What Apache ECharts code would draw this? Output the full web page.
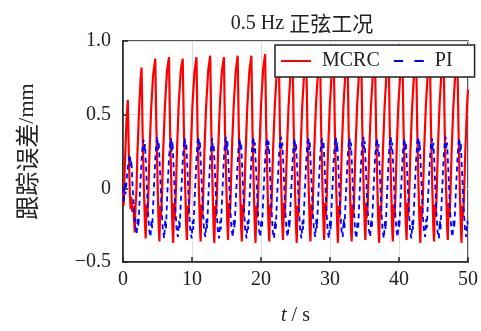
<!DOCTYPE html>
<html>
<head>
<meta charset="utf-8">
<script src="https://cdn.jsdelivr.net/npm/echarts@6/dist/echarts.min.js"></script>
<style>
  html, body { margin: 0; padding: 0; background: #fff; }
  #chart { width: 481px; height: 331px; }
</style>
</head>
<body>
<div id="chart"></div>
<script>
// Tracking error under 0.5 Hz sinusoidal input, [time (s), error (mm)]
const seriesNames = ['MCRC', 'PI'];

const mcrcErr = [
  [0,0],[0.08,-0.12],[0.14,-0.02],[0.3,0.2],[0.5,0.45],[0.7,0.6],[0.85,0.22],[1.0,-0.04],[1.1,-0.14],[1.2,-0.06],[1.35,-0.16],[1.5,-0.12],[1.7,-0.3],[1.82,-0.12],[1.95,-0.02],[2.1,0.25],[2.35,0.55],[2.55,0.74],
  [2.69,0.82],[2.84,0.38],[3.04,-0.02],[3.19,-0.25],[3.29,-0.34],[3.41,-0.11],[3.51,-0.2],[3.64,-0.09],[3.84,0.24],[4.09,0.55],[4.39,0.78],
  [4.68,0.88],[4.83,0.42],[5.03,0.0],[5.18,-0.26],[5.28,-0.36],[5.40,-0.12],[5.50,-0.19],[5.63,-0.08],[5.83,0.26],[6.08,0.56],[6.38,0.8],
  [6.67,0.89],[6.82,0.4],[7.02,-0.01],[7.17,-0.27],[7.27,-0.37],[7.39,-0.1],[7.49,-0.21],[7.62,-0.09],[7.82,0.25],[8.07,0.57],[8.37,0.8],
  [8.66,0.88],[8.81,0.43],[9.01,0.02],[9.16,-0.25],[9.26,-0.35],[9.38,-0.12],[9.48,-0.18],[9.61,-0.08],[9.81,0.24],[10.06,0.56],[10.36,0.79],
  [10.65,0.89],[10.80,0.41],[11.00,0.0],[11.15,-0.26],[11.25,-0.36],[11.37,-0.11],[11.47,-0.2],[11.60,-0.09],[11.80,0.25],[12.05,0.56],[12.35,0.8],
  [12.64,0.9],[12.79,0.42],[12.99,-0.01],[13.14,-0.27],[13.24,-0.37],[13.36,-0.12],[13.46,-0.19],[13.59,-0.08],[13.79,0.26],[14.04,0.57],[14.34,0.8],
  [14.63,0.89],[14.78,0.4],[14.98,0.01],[15.13,-0.25],[15.23,-0.35],[15.35,-0.1],[15.45,-0.2],[15.58,-0.09],[15.78,0.25],[16.03,0.55],[16.33,0.79],
  [16.62,0.9],[16.77,0.43],[16.97,0.0],[17.12,-0.26],[17.22,-0.36],[17.34,-0.11],[17.44,-0.19],[17.57,-0.08],[17.77,0.24],[18.02,0.56],[18.32,0.8],
  [18.61,0.9],[18.76,0.41],[18.96,-0.01],[19.11,-0.27],[19.21,-0.37],[19.33,-0.12],[19.43,-0.2],[19.56,-0.09],[19.76,0.25],[20.01,0.57],[20.31,0.81],
  [20.60,0.91],[20.75,0.42],[20.95,0.0],[21.10,-0.26],[21.20,-0.36],[21.32,-0.11],[21.42,-0.19],[21.55,-0.08],[21.75,0.26],[22.00,0.56],[22.30,0.8],
  [22.59,0.9],[22.74,0.4],[22.94,0.01],[23.09,-0.25],[23.19,-0.35],[23.31,-0.1],[23.41,-0.2],[23.54,-0.09],[23.74,0.24],[23.99,0.55],[24.29,0.79],
  [24.58,0.9],[24.73,0.43],[24.93,0.0],[25.08,-0.26],[25.18,-0.37],[25.30,-0.12],[25.40,-0.19],[25.53,-0.08],[25.73,0.25],[25.98,0.56],[26.28,0.8],
  [26.57,0.89],[26.72,0.41],[26.92,-0.01],[27.07,-0.27],[27.17,-0.36],[27.29,-0.11],[27.39,-0.2],[27.52,-0.09],[27.72,0.26],[27.97,0.57],[28.27,0.8],
  [28.56,0.9],[28.71,0.42],[28.91,0.0],[29.06,-0.25],[29.16,-0.35],[29.28,-0.1],[29.38,-0.19],[29.51,-0.08],[29.71,0.24],[29.96,0.55],[30.26,0.79],
  [30.55,0.9],[30.70,0.4],[30.90,0.01],[31.05,-0.26],[31.15,-0.37],[31.27,-0.12],[31.37,-0.2],[31.50,-0.09],[31.70,0.25],[31.95,0.56],[32.25,0.8],
  [32.54,0.91],[32.69,0.43],[32.89,0.0],[33.04,-0.27],[33.14,-0.36],[33.26,-0.11],[33.36,-0.19],[33.49,-0.08],[33.69,0.26],[33.94,0.57],[34.24,0.81],
  [34.53,0.9],[34.68,0.41],[34.88,-0.01],[35.03,-0.25],[35.13,-0.35],[35.25,-0.1],[35.35,-0.2],[35.48,-0.09],[35.68,0.24],[35.93,0.55],[36.23,0.79],
  [36.52,0.89],[36.67,0.42],[36.87,0.0],[37.02,-0.26],[37.12,-0.37],[37.24,-0.12],[37.34,-0.19],[37.47,-0.08],[37.67,0.25],[37.92,0.56],[38.22,0.8],
  [38.51,0.9],[38.66,0.4],[38.86,0.01],[39.01,-0.27],[39.11,-0.36],[39.23,-0.11],[39.33,-0.2],[39.46,-0.09],[39.66,0.26],[39.91,0.57],[40.21,0.8],
  [40.50,0.9],[40.65,0.43],[40.85,0.0],[41.00,-0.25],[41.10,-0.35],[41.22,-0.1],[41.32,-0.19],[41.45,-0.08],[41.65,0.24],[41.90,0.55],[42.20,0.79],
  [42.49,0.9],[42.64,0.41],[42.84,-0.01],[42.99,-0.26],[43.09,-0.37],[43.21,-0.12],[43.31,-0.2],[43.44,-0.09],[43.64,0.25],[43.89,0.56],[44.19,0.8],
  [44.48,0.91],[44.63,0.42],[44.83,0.0],[44.98,-0.27],[45.08,-0.36],[45.20,-0.11],[45.30,-0.19],[45.43,-0.08],[45.63,0.26],[45.88,0.57],[46.18,0.81],
  [46.47,0.9],[46.62,0.4],[46.82,0.01],[46.97,-0.25],[47.07,-0.35],[47.19,-0.1],[47.29,-0.2],[47.42,-0.09],[47.62,0.24],[47.87,0.55],[48.17,0.79],
  [48.46,0.9],[48.61,0.43],[48.81,0.0],[48.96,-0.26],[49.06,-0.37],[49.18,-0.12],[49.28,-0.19],[49.41,-0.08],[49.61,0.25],[49.86,0.56],[50.0,0.67]
];

const piErr = [
  [0,0],[0.12,-0.1],[0.25,0.04],[0.38,-0.04],[0.6,0.1],[0.85,0.2],[1.0,0.23],[1.12,0.15],[1.22,0.19],[1.4,0.0],[1.6,-0.15],[1.8,-0.26],
  [1.99,-0.31],[2.14,-0.2],[2.24,-0.26],[2.44,-0.04],[2.69,0.19],[2.84,0.29],[2.99,0.33],[3.09,0.25],[3.19,0.3],[3.39,0.09],[3.59,-0.13],[3.79,-0.28],
  [3.98,-0.33],[4.13,-0.22],[4.23,-0.27],[4.43,-0.05],[4.68,0.2],[4.83,0.3],[4.98,0.35],[5.08,0.26],[5.18,0.31],[5.38,0.1],[5.58,-0.12],[5.78,-0.29],
  [5.97,-0.34],[6.12,-0.21],[6.22,-0.28],[6.42,-0.04],[6.67,0.21],[6.82,0.3],[6.97,0.34],[7.07,0.25],[7.17,0.32],[7.37,0.11],[7.57,-0.12],[7.77,-0.28],
  [7.96,-0.33],[8.11,-0.22],[8.21,-0.27],[8.41,-0.06],[8.66,0.19],[8.81,0.29],[8.96,0.34],[9.06,0.27],[9.16,0.31],[9.36,0.1],[9.56,-0.13],[9.76,-0.29],
  [9.95,-0.34],[10.10,-0.22],[10.20,-0.28],[10.40,-0.05],[10.65,0.2],[10.80,0.31],[10.95,0.35],[11.05,0.26],[11.15,0.31],[11.35,0.09],[11.55,-0.12],[11.75,-0.28],
  [11.94,-0.33],[12.09,-0.21],[12.19,-0.27],[12.39,-0.04],[12.64,0.2],[12.79,0.3],[12.94,0.34],[13.04,0.25],[13.14,0.3],[13.34,0.1],[13.54,-0.13],[13.74,-0.29],
  [13.93,-0.34],[14.08,-0.22],[14.18,-0.28],[14.38,-0.05],[14.63,0.21],[14.78,0.31],[14.93,0.35],[15.03,0.26],[15.13,0.32],[15.33,0.11],[15.53,-0.12],[15.73,-0.28],
  [15.92,-0.33],[16.07,-0.21],[16.17,-0.27],[16.37,-0.06],[16.62,0.19],[16.77,0.3],[16.92,0.34],[17.02,0.26],[17.12,0.31],[17.32,0.09],[17.52,-0.13],[17.72,-0.29],
  [17.91,-0.34],[18.06,-0.22],[18.16,-0.28],[18.36,-0.05],[18.61,0.2],[18.76,0.31],[18.91,0.35],[19.01,0.25],[19.11,0.31],[19.31,0.1],[19.51,-0.12],[19.71,-0.28],
  [19.90,-0.33],[20.05,-0.21],[20.15,-0.27],[20.35,-0.04],[20.60,0.2],[20.75,0.3],[20.90,0.34],[21.00,0.26],[21.10,0.32],[21.30,0.11],[21.50,-0.12],[21.70,-0.29],
  [21.89,-0.34],[22.04,-0.22],[22.14,-0.28],[22.34,-0.05],[22.59,0.21],[22.74,0.31],[22.89,0.35],[22.99,0.27],[23.09,0.31],[23.29,0.1],[23.49,-0.13],[23.69,-0.28],
  [23.88,-0.33],[24.03,-0.21],[24.13,-0.27],[24.33,-0.06],[24.58,0.19],[24.73,0.3],[24.88,0.34],[24.98,0.25],[25.08,0.3],[25.28,0.09],[25.48,-0.12],[25.68,-0.29],
  [25.87,-0.34],[26.02,-0.22],[26.12,-0.28],[26.32,-0.05],[26.57,0.2],[26.72,0.31],[26.87,0.35],[26.97,0.26],[27.07,0.31],[27.27,0.1],[27.47,-0.13],[27.67,-0.28],
  [27.86,-0.33],[28.01,-0.21],[28.11,-0.27],[28.31,-0.04],[28.56,0.21],[28.71,0.3],[28.86,0.34],[28.96,0.26],[29.06,0.32],[29.26,0.11],[29.46,-0.12],[29.66,-0.29],
  [29.85,-0.34],[30.00,-0.22],[30.10,-0.28],[30.30,-0.05],[30.55,0.2],[30.70,0.31],[30.85,0.35],[30.95,0.25],[31.05,0.31],[31.25,0.1],[31.45,-0.13],[31.65,-0.28],
  [31.84,-0.33],[31.99,-0.21],[32.09,-0.27],[32.29,-0.06],[32.54,0.19],[32.69,0.3],[32.84,0.34],[32.94,0.26],[33.04,0.31],[33.24,0.09],[33.44,-0.12],[33.64,-0.29],
  [33.83,-0.34],[33.98,-0.22],[34.08,-0.28],[34.28,-0.05],[34.53,0.2],[34.68,0.31],[34.83,0.35],[34.93,0.27],[35.03,0.32],[35.23,0.1],[35.43,-0.13],[35.63,-0.28],
  [35.82,-0.33],[35.97,-0.21],[36.07,-0.27],[36.27,-0.04],[36.52,0.2],[36.67,0.3],[36.82,0.34],[36.92,0.25],[37.02,0.3],[37.22,0.11],[37.42,-0.12],[37.62,-0.29],
  [37.81,-0.34],[37.96,-0.22],[38.06,-0.28],[38.26,-0.05],[38.51,0.21],[38.66,0.31],[38.81,0.35],[38.91,0.26],[39.01,0.31],[39.21,0.1],[39.41,-0.13],[39.61,-0.28],
  [39.80,-0.33],[39.95,-0.21],[40.05,-0.27],[40.25,-0.06],[40.50,0.19],[40.65,0.3],[40.80,0.34],[40.90,0.26],[41.00,0.31],[41.20,0.09],[41.40,-0.12],[41.60,-0.29],
  [41.79,-0.34],[41.94,-0.22],[42.04,-0.28],[42.24,-0.05],[42.49,0.2],[42.64,0.31],[42.79,0.35],[42.89,0.25],[42.99,0.32],[43.19,0.11],[43.39,-0.12],[43.59,-0.28],
  [43.78,-0.33],[43.93,-0.21],[44.03,-0.27],[44.23,-0.04],[44.48,0.2],[44.63,0.3],[44.78,0.34],[44.88,0.26],[44.98,0.31],[45.18,0.1],[45.38,-0.13],[45.58,-0.29],
  [45.77,-0.34],[45.92,-0.22],[46.02,-0.28],[46.22,-0.05],[46.47,0.21],[46.62,0.31],[46.77,0.35],[46.87,0.27],[46.97,0.31],[47.17,0.1],[47.37,-0.12],[47.57,-0.28],
  [47.76,-0.33],[47.91,-0.21],[48.01,-0.27],[48.21,-0.06],[48.46,0.19],[48.61,0.3],[48.76,0.34],[48.86,0.25],[48.96,0.3],[49.16,0.09],[49.36,-0.13],[49.56,-0.28],[49.75,-0.33],[49.9,-0.22],[50,-0.26]
];

const LATIN = '"Liberation Serif", "Times New Roman", serif';
const CJK = '"Noto Sans CJK SC", sans-serif';
const INK = '#222';

// Legend keys: a solid bar for MCRC, two dashes for PI
const solidKey = 'path://M0,0H30V2H0Z';
const dashKey = 'path://M0,0H9V2H0Z M20,0H29V2H20Z';

const chart = echarts.init(document.getElementById('chart'), null, { renderer: 'canvas' });

const fmtY = v => v === 0 ? '0' : (v < 0 ? '\u2212' : '') + Math.abs(v).toFixed(1);

chart.setOption({
  animation: false,
  backgroundColor: '#fff',
  title: {
    text: '{a|0.5 Hz }{c|正弦工况}',
    left: 297,
    textAlign: 'center',
    top: 8,
    textStyle: {
      fontWeight: 'normal',
      rich: {
        a: { fontFamily: LATIN, fontSize: 20, color: INK, fontWeight: 'normal' },
        c: { fontFamily: CJK, fontSize: 21, color: INK, fontWeight: 'normal' }
      }
    }
  },
  legend: {
    data: [
      { name: seriesNames[0], icon: solidKey, itemStyle: { color: '#ff0000' } },
      { name: seriesNames[1], icon: dashKey, itemStyle: { color: '#0000ff' } }
    ],
    left: 275,
    top: 45,
    orient: 'horizontal',
    itemWidth: 30,
    itemHeight: 2.5,
    itemGap: 14,
    padding: [6, 22, 6, 6],
    backgroundColor: '#fff',
    borderColor: INK,
    borderWidth: 1.5,
    borderRadius: 0,
    textStyle: { fontFamily: LATIN, fontSize: 20, color: INK, padding: [0, 0, 0, 6] }
  },
  grid: { left: 123, right: 10, top: 41, bottom: 65, show: true, borderColor: INK, borderWidth: 1.5 },
  xAxis: {
    type: 'value',
    min: 0, max: 50, interval: 10,
    name: '{i|t} / s',
    nameLocation: 'middle',
    nameGap: 44,
    nameTextStyle: {
      rich: {
        i: { fontFamily: LATIN, fontSize: 20, fontStyle: 'italic', color: INK }
      },
      fontFamily: LATIN, fontSize: 20, color: INK
    },
    axisLine: { show: true, onZero: false, lineStyle: { color: INK, width: 1.5 } },
    axisTick: { show: true, inside: true, length: 5, lineStyle: { color: INK, width: 1.5 } },
    axisLabel: { fontFamily: LATIN, fontSize: 20, color: INK, margin: 8 },
    splitLine: { show: true, lineStyle: { color: '#dcdcdc', width: 1 } }
  },
  yAxis: {
    type: 'value',
    min: -0.5, max: 1.0, interval: 0.5,
    name: '{c|跟踪误差}{l|/mm}',
    nameLocation: 'middle',
    nameRotate: 90,
    nameGap: 84,
    nameTextStyle: {
      rich: {
        c: { fontFamily: CJK, fontSize: 24, color: INK },
        l: { fontFamily: LATIN, fontSize: 22, color: INK }
      }
    },
    axisLine: { show: true, onZero: false, lineStyle: { color: INK, width: 1.5 } },
    axisTick: { show: true, inside: true, length: 5, lineStyle: { color: INK, width: 1.5 } },
    axisLabel: { fontFamily: LATIN, fontSize: 20, color: INK, margin: 12, formatter: fmtY },
    splitLine: { show: true, lineStyle: { color: '#dcdcdc', width: 1 } }
  },
  series: [
    {
      name: seriesNames[0],
      type: 'line',
      data: mcrcErr,
      symbol: 'none',
      lineStyle: { color: '#ff0000', width: 2.2 },
      itemStyle: { color: '#ff0000' },
      z: 2
    },
    {
      name: seriesNames[1],
      type: 'line',
      data: piErr,
      symbol: 'none',
      lineStyle: { color: '#0000ff', width: 1.8, type: [5, 4] },
      itemStyle: { color: '#0000ff' },
      z: 3
    }
  ]
});
</script>
</body>
</html>
